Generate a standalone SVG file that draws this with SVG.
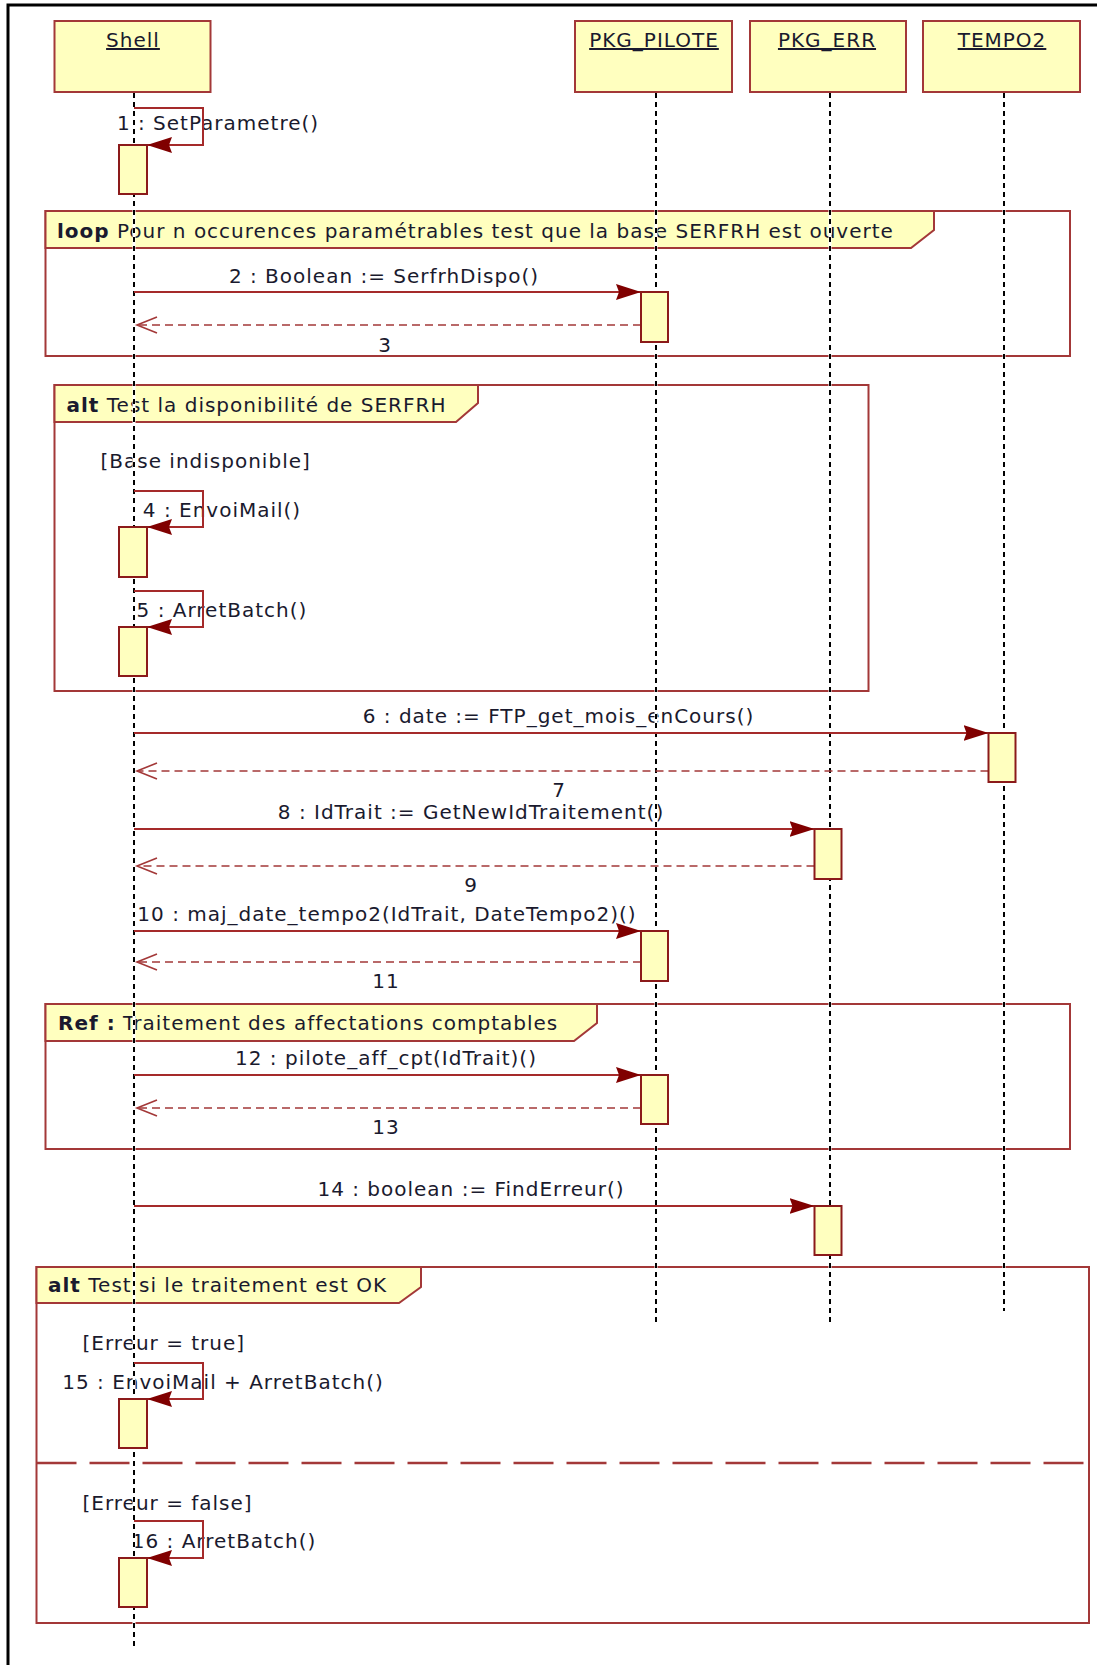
<svg xmlns="http://www.w3.org/2000/svg" width="1097" height="1665" viewBox="0 0 1097 1665">
<defs>
<style>
text{font-family:"DejaVu Sans","Liberation Sans",sans-serif;font-size:20px;letter-spacing:1px;fill:#1a1a2e}
.b{font-weight:bold}
.mid{text-anchor:middle}
.head{fill:#ffffbf;stroke:#a33838;stroke-width:2}
.act{fill:#ffffbf;stroke:#8b1a1a;stroke-width:2}
.frame{fill:none;stroke:#a33838;stroke-width:2}
.fhead{fill:#ffffbf;stroke:#a33838;stroke-width:2}
.sep{stroke:#a33838;stroke-width:2.5;stroke-dasharray:40 13;fill:none}
.lifew{stroke:#ffffff;stroke-width:3}
.life{stroke:#000;stroke-width:2;stroke-dasharray:5 4}
.msg{stroke:#a52a2a;stroke-width:2;fill:none;marker-end:url(#filled)}
.ret{stroke:#a33838;stroke-width:1.6;fill:none;stroke-dasharray:8 5;marker-end:url(#open)}
.u{text-decoration:underline}
</style>
<marker id="filled" markerUnits="userSpaceOnUse" markerWidth="26" markerHeight="16" refX="25" refY="8" orient="auto" viewBox="0 0 26 16">
<path d="M0,0 L25,8 L0,16 L3,8 Z" fill="#800000"/>
</marker>
<marker id="open" markerUnits="userSpaceOnUse" markerWidth="24" markerHeight="20" refX="21" refY="9" orient="auto" viewBox="0 0 24 20">
<path d="M1,1 L21,9 L1,17" fill="none" stroke="#a33838" stroke-width="1.6"/>
</marker>
</defs>
<rect x="0" y="0" width="1097" height="1665" fill="#ffffff"/>
<g id="outer-frame">
<path d="M8,1665 V5 H1097" fill="none" stroke="#000" stroke-width="3"/>
</g>

<g id="frame-loop">
<rect class="frame" x="45.5" y="211" width="1024.5" height="145"/>
<path class="fhead" d="M45.5,211 H934 V230 L911,248 H45.5 Z"/>
<text x="57" y="238"><tspan class="b">loop</tspan> Pour n occurences paramétrables test que la base SERFRH est ouverte</text>
</g>
<g id="frame-alt1">
<rect class="frame" x="54.5" y="385" width="814" height="306"/>
<path class="fhead" d="M54.5,385 H478 V403 L456,422 H54.5 Z"/>
<text x="66.5" y="412"><tspan class="b">alt</tspan> Test la disponibilité de SERFRH</text>
<text x="100.5" y="468">[Base indisponible]</text>
</g>
<g id="frame-ref">
<rect class="frame" x="45.5" y="1004" width="1024.5" height="145"/>
<path class="fhead" d="M45.5,1004 H597 V1023 L574,1041 H45.5 Z"/>
<text x="58" y="1030"><tspan class="b">Ref :</tspan> Traitement des affectations comptables</text>
</g>
<g id="frame-alt2">
<rect class="frame" x="36.5" y="1267" width="1052.5" height="356"/>
<path class="fhead" d="M36.5,1267 H421 V1287 L399,1303 H36.5 Z"/>
<text x="48" y="1292"><tspan class="b">alt</tspan> Test si le traitement est OK</text>
<line class="sep" x1="36.5" y1="1463" x2="1089" y2="1463"/>
<text x="82.5" y="1350">[Erreur = true]</text>
<text x="82.5" y="1510">[Erreur = false]</text>
</g>

<g id="labels">
<text class="mid" x="218" y="130">1 : SetParametre()</text>
<text class="mid" x="384" y="283">2 : Boolean := SerfrhDispo()</text>
<text class="mid" x="385" y="352">3</text>
<text class="mid" x="222" y="517">4 : EnvoiMail()</text>
<text class="mid" x="222" y="617">5 : ArretBatch()</text>
<text class="mid" x="558.5" y="723">6 : date := FTP_get_mois_enCours()</text>
<text class="mid" x="559" y="797">7</text>
<text class="mid" x="471" y="819">8 : IdTrait := GetNewIdTraitement()</text>
<text class="mid" x="471" y="892">9</text>
<text class="mid" x="387" y="921">10 : maj_date_tempo2(IdTrait, DateTempo2)()</text>
<text class="mid" x="386" y="988">11</text>
<text class="mid" x="386" y="1065">12 : pilote_aff_cpt(IdTrait)()</text>
<text class="mid" x="386" y="1134">13</text>
<text class="mid" x="471" y="1196">14 : boolean := FindErreur()</text>
<text class="mid" x="223" y="1389">15 : EnvoiMail + ArretBatch()</text>
<text class="mid" x="224" y="1548">16 : ArretBatch()</text>
</g>

<g id="node-shell">
<rect class="head" x="54.5" y="21" width="156" height="71"/>
<text class="mid u" x="133" y="47">Shell</text>
<line class="lifew" x1="134" y1="93" x2="134" y2="1648"/>
<line class="life" x1="134" y1="93" x2="134" y2="1648"/>
</g>
<g id="node-pkg-pilote">
<rect class="head" x="575" y="21" width="157" height="71"/>
<text class="mid u" x="654" y="47">PKG_PILOTE</text>
<line class="lifew" x1="656" y1="93" x2="656" y2="1322"/>
<line class="life" x1="656" y1="93" x2="656" y2="1322"/>
</g>
<g id="node-pkg-err">
<rect class="head" x="750" y="21" width="156" height="71"/>
<text class="mid u" x="827" y="47">PKG_ERR</text>
<line class="lifew" x1="830" y1="93" x2="830" y2="1322"/>
<line class="life" x1="830" y1="93" x2="830" y2="1322"/>
</g>
<g id="node-tempo2">
<rect class="head" x="923" y="21" width="157" height="71"/>
<text class="mid u" x="1002" y="47">TEMPO2</text>
<line class="lifew" x1="1004" y1="93" x2="1004" y2="1311"/>
<line class="life" x1="1004" y1="93" x2="1004" y2="1311"/>
</g>

<g id="connectors">
<path class="msg" d="M134,108 H203 V145 H147"/>
<line class="msg" x1="134" y1="292" x2="641" y2="292"/>
<line class="ret" x1="641" y1="325" x2="137" y2="325"/>
<path class="msg" d="M134,491 H203 V527 H147"/>
<path class="msg" d="M134,591 H203 V627 H147"/>
<line class="msg" x1="134" y1="733" x2="988.5" y2="733"/>
<line class="ret" x1="988.5" y1="771" x2="137" y2="771"/>
<line class="msg" x1="134" y1="829" x2="814.5" y2="829"/>
<line class="ret" x1="814.5" y1="866" x2="137" y2="866"/>
<line class="msg" x1="134" y1="931" x2="641" y2="931"/>
<line class="ret" x1="641" y1="962" x2="137" y2="962"/>
<line class="msg" x1="134" y1="1075" x2="641" y2="1075"/>
<line class="ret" x1="641" y1="1108" x2="137" y2="1108"/>
<line class="msg" x1="134" y1="1206" x2="814.5" y2="1206"/>
<path class="msg" d="M134,1363 H203 V1399 H147"/>
<path class="msg" d="M134,1521 H203 V1558 H147"/>
</g>

<g id="activations">
<rect class="act" x="119" y="145" width="28" height="49"/>
<rect class="act" x="119" y="527" width="28" height="50"/>
<rect class="act" x="119" y="627" width="28" height="49"/>
<rect class="act" x="119" y="1399" width="28" height="49"/>
<rect class="act" x="119" y="1558" width="28" height="49"/>
<rect class="act" x="641" y="292" width="27" height="50"/>
<rect class="act" x="641" y="931" width="27" height="50"/>
<rect class="act" x="641" y="1075" width="27" height="49"/>
<rect class="act" x="814.5" y="829" width="27" height="50"/>
<rect class="act" x="814.5" y="1206" width="27" height="49"/>
<rect class="act" x="988.5" y="733" width="27" height="49"/>
</g>
</svg>
